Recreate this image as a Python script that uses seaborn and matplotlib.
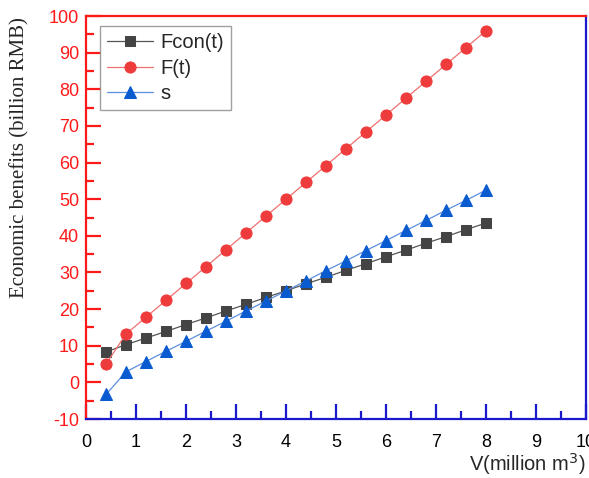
import matplotlib
matplotlib.use('Agg')
import matplotlib.pyplot as plt
import pandas as pd
import seaborn as sns
from matplotlib.ticker import MultipleLocator

# Data
v = [0.4, 0.8, 1.2, 1.6, 2.0, 2.4, 2.8, 3.2, 3.6, 4.0,
     4.4, 4.8, 5.2, 5.6, 6.0, 6.4, 6.8, 7.2, 7.6, 8.0]
fcon = [8.3, 10.3, 12.1, 13.9, 15.8, 17.6, 19.5, 21.3, 23.2, 25.0,
        26.9, 28.7, 30.6, 32.4, 34.3, 36.1, 38.0, 39.8, 41.7, 43.5]
ft = [5.0, 13.2, 17.8, 22.4, 27.0, 31.6, 36.2, 40.8, 45.4, 50.0,
      54.6, 59.2, 63.8, 68.4, 73.0, 77.6, 82.2, 86.8, 91.4, 96.0]
s = [-3.3, 2.9, 5.7, 8.5, 11.2, 14.0, 16.7, 19.5, 22.2, 25.0,
     27.7, 30.5, 33.2, 36.0, 38.7, 41.5, 44.2, 47.0, 49.7, 52.5]

df = pd.DataFrame({'V': v, 'Fcon(t)': fcon, 'F(t)': ft, 's': s})

sns.set_style('white')
plt.rcParams['font.family'] = ['Liberation Sans', 'DejaVu Sans']
plt.rcParams['axes.unicode_minus'] = False

fig = plt.figure(figsize=(5.89, 4.78), dpi=100)
ax = fig.add_axes([0.146, 0.1234, 0.849, 0.843])

sns.lineplot(data=df, x='V', y='Fcon(t)', ax=ax, color='#555555', lw=0.9,
             marker='s', markersize=7, markerfacecolor='#444444', markeredgecolor='#444444',
             label='Fcon(t)')
sns.lineplot(data=df, x='V', y='F(t)', ax=ax, color='#f07070', lw=0.9,
             marker='o', markersize=8, markerfacecolor='#ee3b3b', markeredgecolor='#ee3b3b',
             label='F(t)')
sns.lineplot(data=df, x='V', y='s', ax=ax, color='#5b8fe0', lw=0.9,
             marker='^', markersize=8, markerfacecolor='#0a5bd0', markeredgecolor='#0a5bd0',
             label='s')

ax.set_xlim(0, 10)
ax.set_ylim(-10, 100)
ax.xaxis.set_major_locator(MultipleLocator(1))
ax.xaxis.set_minor_locator(MultipleLocator(0.5))
ax.yaxis.set_major_locator(MultipleLocator(10))
ax.yaxis.set_minor_locator(MultipleLocator(5))

red = '#ff1a1a'
blue = '#1a1acc'
ax.spines['left'].set_color(red)
ax.spines['top'].set_color(red)
ax.spines['bottom'].set_color(blue)
ax.spines['right'].set_color(blue)
for sp in ax.spines.values():
    sp.set_linewidth(1.6)

ax.tick_params(axis='y', which='major', direction='in', length=11, width=1.6,
               color=red, labelcolor=red, labelsize=13, left=True, pad=5)
ax.tick_params(axis='y', which='minor', direction='in', length=5.5, width=1.6,
               color=red, left=True)
ax.tick_params(axis='x', which='major', direction='in', length=11, width=1.6,
               color=blue, labelcolor='black', labelsize=13, bottom=True, pad=11)
ax.tick_params(axis='x', which='minor', direction='in', length=5.5, width=1.6,
               color=blue, bottom=True)

ax.set_ylabel('Economic benefits (billion RMB)', family='Liberation Serif', fontsize=15)
ax.yaxis.set_label_coords(-0.132, 0.648)
ax.yaxis.label.set_verticalalignment('center')
ax.set_xlabel('V(million m$^3$)', fontsize=14.5)
ax.xaxis.set_label_coords(1.0, -0.08)
ax.xaxis.label.set_horizontalalignment('right')

leg = ax.legend(loc='upper left', bbox_to_anchor=(0.015, 0.99), fontsize=14.5,
                frameon=True, fancybox=False, handlelength=2.3, handletextpad=0.35,
                borderpad=0.35, labelspacing=0.32, borderaxespad=0.3)
leg.get_frame().set_edgecolor('#888888')
leg.get_frame().set_linewidth(1.0)

fig.savefig('out.png', dpi=100)
